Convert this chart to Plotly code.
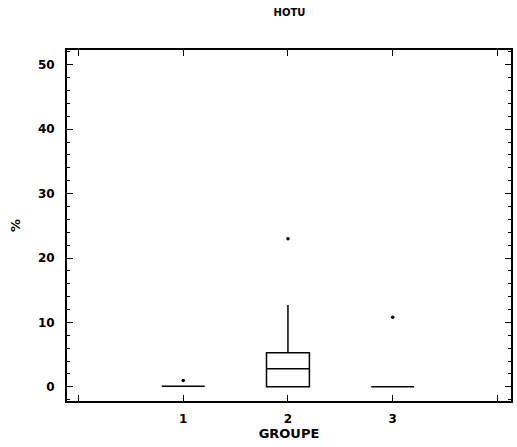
import plotly.graph_objects as go

groups = [1, 2, 3]
q1 = [0.1, 0.0, 0.0]
median = [0.1, 2.8, 0.0]
q3 = [0.1, 5.3, 0.0]
lowerfence = [0.1, 0.0, 0.0]
upperfence = [0.1, 12.7, 0.0]
outlier_x = [1, 2, 3]
outlier_y = [1.0, 23.0, 10.8]

x_tickvals = [0, 1, 2, 3, 4]
x_ticktext = ["", "1", "2", "3", ""]
y_tickvals = [0, 10, 20, 30, 40, 50]

font_tick = dict(family="DejaVu Sans", size=12, color="black", weight="bold")
font_axis = dict(family="DejaVu Sans", size=13, color="black", weight="bold")

fig = go.Figure()
fig.add_trace(go.Box(
    x=groups, q1=q1, median=median, q3=q3,
    lowerfence=lowerfence, upperfence=upperfence,
    boxpoints=False, width=0.41, whiskerwidth=0,
    fillcolor="rgba(0,0,0,0)", line=dict(color="black", width=1.5),
    showlegend=False,
))
fig.add_trace(go.Scatter(
    x=outlier_x, y=outlier_y, mode="markers",
    marker=dict(color="black", size=3.5), showlegend=False,
))

axis_common = dict(
    showline=True, linecolor="black", linewidth=2, mirror="ticks",
    ticks="inside", tickcolor="black", showgrid=False, zeroline=False,
    tickfont=font_tick,
)

fig.update_layout(
    width=517, height=447,
    margin=dict(l=67, r=4, t=50, b=46),
    paper_bgcolor="white", plot_bgcolor="white",
    title=dict(text="HOTU", x=0.56, xanchor="center", y=0.98, yanchor="top",
               font=dict(family="DejaVu Sans", size=10, color="black", weight="bold")),
    xaxis=dict(range=[-0.11, 4.13], tickvals=x_tickvals, ticktext=x_ticktext,
               ticklen=6, ticklabelstandoff=6,
               title=dict(text="GROUPE", font=font_axis, standoff=2),
               **axis_common),
    yaxis=dict(range=[-2.2, 52.3], tickvals=y_tickvals, ticklen=6, ticklabelstandoff=8,
               minor=dict(dtick=2, ticklen=3, ticks="inside", tickcolor="black", showgrid=False),
               title=dict(text="%", font=font_axis, standoff=14),
               **axis_common),
)

fig.write_html("out.html")
